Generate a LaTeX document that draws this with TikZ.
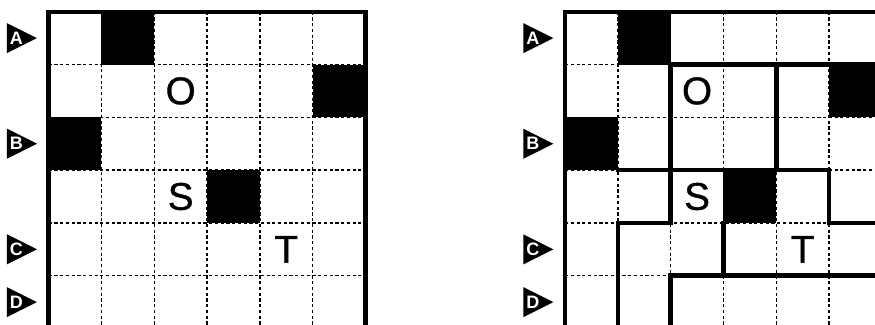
\documentclass[tikz,border=0pt]{standalone}
\usepackage{fontspec}
\setsansfont{Liberation Sans}
\newfontfamily\cellfont[FakeBold=0.9]{Liberation Sans}
\usepackage{tikz}

\begin{document}
\begin{tikzpicture}[
    x=39.6pt, y=39.6pt,
    gridline/.style={draw=black, line width=0.95pt, dash pattern=on 2.4pt off 1.9pt},
    frame/.style={draw=black, line width=3.3pt},
    wall/.style={draw=black, line width=3.4pt, line cap=rect},
    letter/.style={font=\cellfont\fontsize{29}{29}\selectfont, inner sep=0pt},
    tag/.style={text=white, font=\sffamily\bfseries\fontsize{13.5}{13.5}\selectfont, inner sep=0pt},
]
\useasboundingbox (-0.922,-5.915) rectangle (15.65,0.222);

\foreach \dx/\side in {0/L, 9.78/R} {
  \begin{scope}[shift={(\dx,0)}]
    % cell dividers
    \foreach \i in {1,...,5} {
      \draw[gridline] (\i,0) -- (\i,-6.3);
      \draw[gridline] (0,-\i) -- (6,-\i);
    }
    % black squares
    \foreach \cx/\ry in {1/0, 5/1, 0/2, 3/3}
      \fill (\cx,-\ry) rectangle ++(1,-1);
    \draw[frame] (0,-6.3) -- (0,0) -- (6,0) -- (6,-6.3);
    % letters
    \node[letter] (O\side) at (2.5,-1.5) {O};
    \node[letter] (S\side) at (2.5,-3.5) {S};
    \node[letter] (T\side) at (4.5,-4.5) {T};
    % row markers
    \foreach \t/\ry in {A/0, B/2, C/4, D/5} {
      \fill (-0.79,-\ry-0.216) -- (-0.222,-\ry-0.5) -- (-0.79,-\ry-0.784) -- cycle;
      \node[tag] (tag\t\side) at (-0.61,-\ry-0.5) {\t};
    }
  \end{scope}
}

% region walls on the right grid
\begin{scope}[shift={(9.78,0)}]
  \draw[wall] (2,-1) -- (6,-1);
  \draw[wall] (2,-1) -- (2,-4) -- (1,-4) -- (1,-6.3);
  \draw[wall] (4,-1) -- (4,-3);
  \draw[wall] (1,-3) -- (5,-3) -- (5,-4) -- (6,-4);
  \draw[wall] (3,-4) -- (3,-5);
  \draw[wall] (2,-6.3) -- (2,-5) -- (6,-5);
\end{scope}
\end{tikzpicture}
\end{document}
